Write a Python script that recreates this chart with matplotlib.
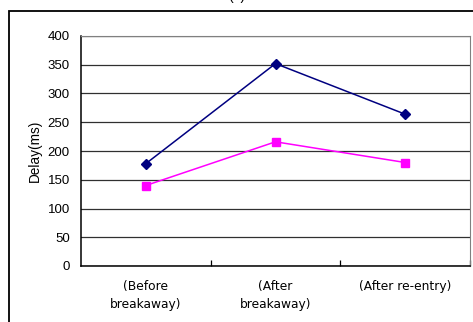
import matplotlib
matplotlib.use('Agg')
import matplotlib.pyplot as plt
from matplotlib.patches import Rectangle

plt.rcParams['font.family'] = ['Liberation Sans', 'DejaVu Sans']

categories = ['(Before\nbreakaway)', '(After\nbreakaway)', '(After re-entry)']
series_a = [178, 352, 264]
series_b = [140, 216, 180]
yticks = [0, 50, 100, 150, 200, 250, 300, 350, 400]

fig = plt.figure(figsize=(4.73, 3.22), dpi=100)
ax = fig.add_axes([81/473, 56/322, 389/473, 230/322])

# outer chart frame (extends past the bottom/right edge, as in the source)
fig.patches.append(Rectangle((9/473, -0.1), 1.2, (311/322) + 0.1,
                             transform=fig.transFigure, fill=False,
                             edgecolor='black', linewidth=1.3, zorder=0))
# title sits mostly above the visible area, like the cropped source
fig.text(0.5, 1.0 + 4/322, '(a)', ha='center', va='center', fontsize=10)

x = range(len(categories))
ax.plot(x, series_a, color='#000080', marker='D', markersize=5, linewidth=1.1, zorder=3)
ax.plot(x, series_b, color='#FF00FF', marker='s', markersize=5.5, linewidth=1.1, zorder=3)

ax.set_xlim(-0.5, 2.5)
ax.set_ylim(0, 400)
ax.set_yticks(yticks)
ax.yaxis.grid(True, color='#303030', linewidth=0.9)
ax.set_axisbelow(True)

ax.set_xticks(list(x))
ax.set_xticklabels(categories, fontsize=8.8, linespacing=1.55, family='DejaVu Sans')
ax.set_xticks([0.5, 1.5, 2.5], minor=True)
ax.tick_params(axis='x', which='major', length=0, pad=10)
ax.tick_params(axis='x', which='minor', direction='in', length=4, width=0.9)
ax.tick_params(axis='y', length=0, pad=8, labelsize=9.5)

ax.set_ylabel('Delay(ms)', fontsize=9.8, labelpad=4)

for side in ['top', 'right']:
    ax.spines[side].set_color('#808080')
for side in ['left', 'bottom']:
    ax.spines[side].set_color('black')
    ax.spines[side].set_linewidth(1.1)

fig.savefig('out.png', dpi=100)
